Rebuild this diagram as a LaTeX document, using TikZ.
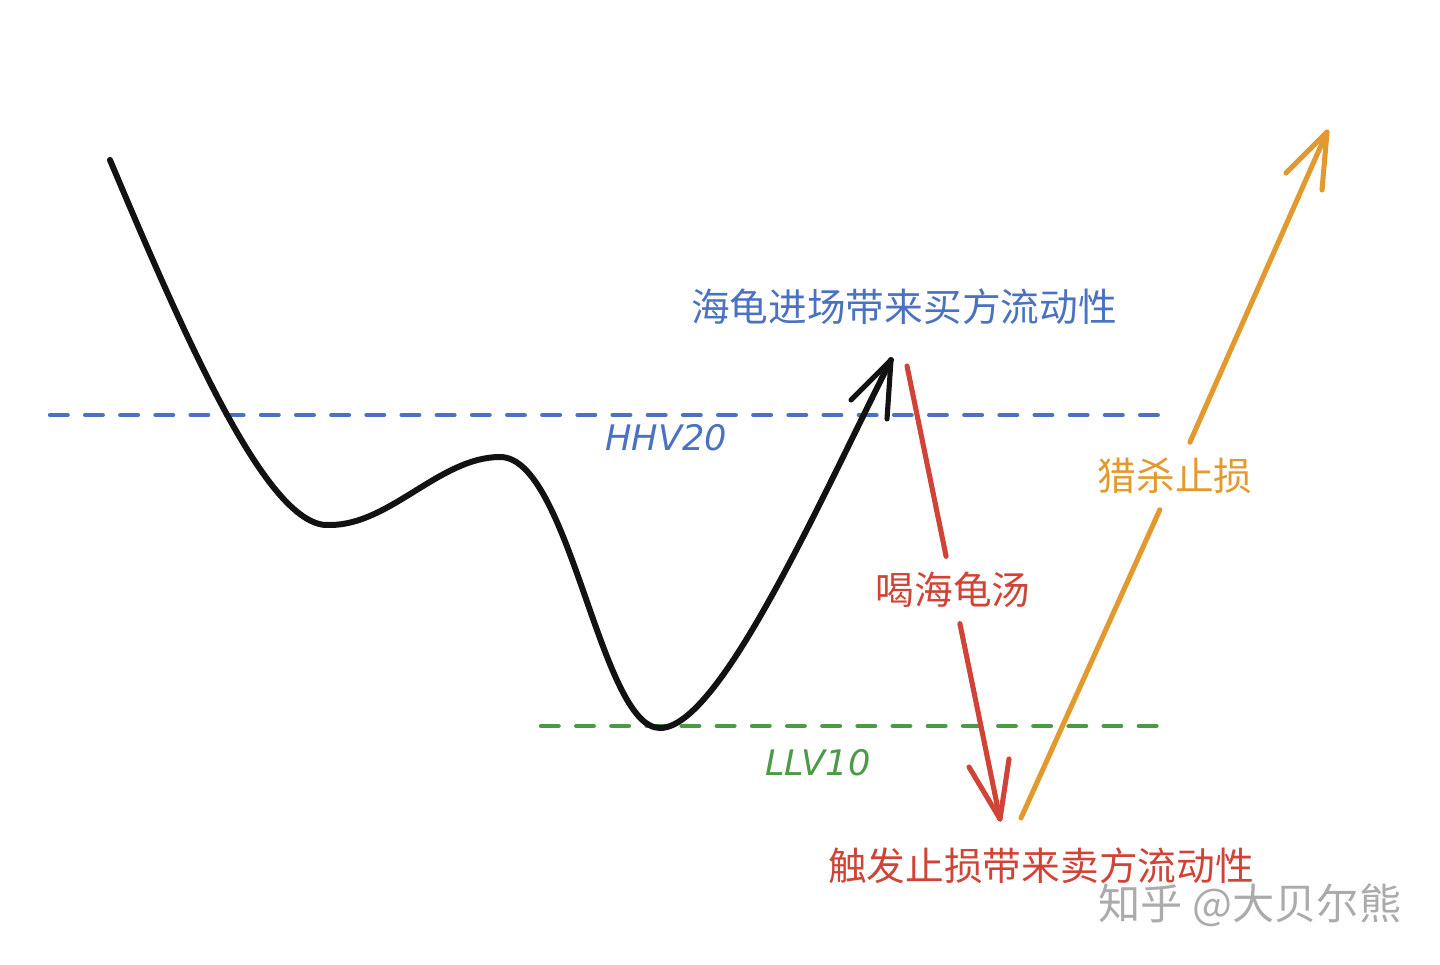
\documentclass[tikz,border=0pt]{standalone}
\usepackage{fontspec}
\setmainfont{Noto Sans CJK SC}
\newfontfamily\handfont{DejaVu Sans}
\usetikzlibrary{positioning}
\definecolor{hhvblue}{HTML}{4A72C0}
\definecolor{llvgreen}{HTML}{4C9A45}
\definecolor{soupred}{HTML}{CF4436}
\definecolor{huntorange}{HTML}{E29A2E}
\definecolor{markgray}{HTML}{ABABAB}
\tikzset{
  cjk/.style={font=\fontsize{11}{13}\selectfont, inner sep=0pt},
  hand/.style={font=\handfont\itshape\fontsize{10}{12}\selectfont, inner sep=0pt},
  level/.style={line width=1.25pt, dash pattern=on 5pt off 5pt},
  cutlabel/.style={cjk, inner xsep=2pt, inner ysep=4.3pt},
  stroke/.style={line width=1.45pt},
}
\begin{document}
\begin{tikzpicture}[x=0.01cm,y=-0.01cm,line cap=round,line join=round]
\useasboundingbox (0,0) rectangle (1440,964);
% levels
\coordinate (hl) at (50,415);
\coordinate (hr) at (1162,415);
\coordinate (ll) at (541,726);
\coordinate (lr) at (1160,726);
\draw[level,hhvblue](hl)--(hr);
\draw[level,llvgreen](ll)--(lr);
\node[hand,text=hhvblue] (hhv) at (666,438) {HHV20};
\node[hand,text=llvgreen] (llv) at (818,763) {LLV10};
% price path
\coordinate (p0) at (110,160);
\coordinate (p1) at (330,525);
\coordinate (p2) at (500,457);
\coordinate (p3) at (660,728);
\coordinate (tip) at (891,360);
\draw[line width=1.7pt,black!93](p0) .. controls (190,350) and (270,530) .. (p1)
  .. controls (390,525) and (440,457) .. (p2)
  .. controls (570,457) and (600,728) .. (p3)
  .. controls (720,728) and (820,500) .. (tip);
\coordinate (tipl) at (851,400);
\coordinate (tipr) at (887,419);
\draw[stroke,black!93](tipl)--(tip)--(tipr);
\node[cjk,text=hhvblue] (buyliq) at (904,307) {海龟进场带来买方流动性};
% drink the turtle soup
\coordinate (rs) at (907,366);
\coordinate (rt) at (1000,819);
\node[cutlabel,text=soupred] (soup) at (953,590) {喝海龟汤};
\draw[stroke,soupred](rs)--(soup);
\draw[stroke,soupred](soup)--(rt);
\coordinate (rtl) at (969,767);
\coordinate (rtr) at (1009,759);
\draw[stroke,soupred](rtl)--(rt)--(rtr);
\node[cjk,text=soupred] (sellliq) at (1041,866) {触发止损带来卖方流动性};
% stop hunt
\coordinate (os) at (1021,818);
\coordinate (ot) at (1327,132);
\node[cutlabel,text=huntorange] (hunt) at (1175,476) {猎杀止损};
\draw[stroke,huntorange](os)--(hunt);
\draw[stroke,huntorange](hunt)--(ot);
\coordinate (otl) at (1286,173);
\coordinate (otr) at (1322,190);
\draw[stroke,huntorange](otl)--(ot)--(otr);
% watermark
\node[cjk,font=\fontsize{12}{14}\selectfont,text=markgray] (mark) at (1250,905) {知乎 @大贝尔熊};
\end{tikzpicture}
\end{document}
